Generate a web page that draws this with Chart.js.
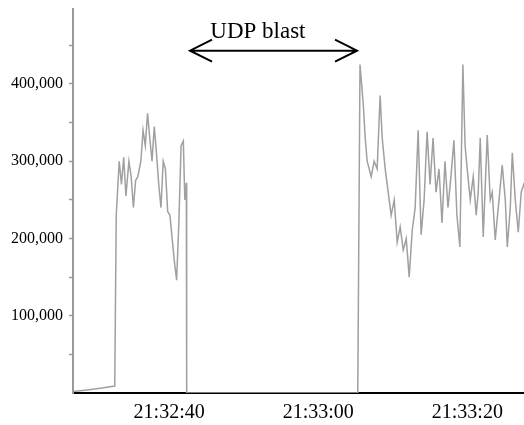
<!DOCTYPE html>
<html lang="en">
<head>
  <meta charset="UTF-8">
  <title>UDP blast</title>
  <style>
    html, body { margin: 0; padding: 0; background: #fff; }
    #wrap { width: 524px; height: 425px; }
  </style>
</head>
<body>
  <div id="wrap"><canvas id="chart" width="524" height="425"></canvas></div>

  <script src="https://cdn.jsdelivr.net/npm/chart.js"></script>
  <script>
    // seconds after 21:32:00
    const times = [
      27.1, 29.0, 31.0, 32.7,
      32.9, 33.3, 33.6, 33.9, 34.2, 34.6, 34.9, 35.2, 35.5, 35.8, 36.2, 36.5, 36.8,
      37.1, 37.4, 37.7, 38.0, 38.3, 38.6, 38.9, 39.2, 39.5, 39.8, 40.1, 40.4, 40.7,
      41.0, 41.3, 41.6, 41.9, 42.1, 42.3, 42.35,
      65.3, 65.6, 66.03, 66.3, 66.56, 66.83, 67.1, 67.5, 67.9, 68.3, 68.58, 68.98,
      69.38, 69.78, 70.19, 70.59, 70.99, 71.4, 71.8, 72.2, 72.6, 73.0, 73.4, 73.8,
      74.2, 74.6, 75.0, 75.4, 75.8, 76.2, 76.6, 77.0, 77.4, 77.8, 78.2, 78.6, 79.0,
      79.4, 79.7, 79.98, 80.39, 80.79, 81.19, 81.46, 81.73, 82.13, 82.67, 83.07,
      83.34, 83.74, 84.15, 84.68, 85.09, 85.36, 85.76, 86.03, 86.43, 86.83, 87.23, 87.64
    ];
    const packets = [
      2000, 4000, 6500, 9000,
      230000, 300000, 270000, 305000, 255000, 300000, 280000, 240000, 275000, 280000, 300000, 340000, 320000,
      362000, 330000, 300000, 345000, 310000, 270000, 240000, 300000, 290000, 235000, 230000, 200000, 170000,
      146000, 220000, 320000, 326000, 250000, 272000, 0,
      0, 425000, 375000, 330000, 300000, 290000, 280000, 300000, 290000, 385000, 330000, 290000,
      260000, 230000, 250000, 195000, 215000, 185000, 200000, 150000, 210000, 240000, 340000, 205000,
      250000, 338000, 270000, 330000, 260000, 290000, 220000, 300000, 240000, 280000, 327000, 230000, 189000,
      425000, 320000, 290000, 250000, 280000, 230000, 260000, 330000, 202000, 334000, 250000,
      260000, 198000, 240000, 295000, 250000, 189000, 240000, 311000, 250000, 208000, 260000, 272000
    ];

    const xTickValues = [40, 60, 80];
    const xTickLabels = ['21:32:40', '21:33:00', '21:33:20'];
    const yTickValues = [50000, 100000, 150000, 200000, 250000, 300000, 350000, 400000, 450000];
    const yTickLabels = ['', '100,000', '', '200,000', '', '300,000', '', '400,000', ''];

    // arrow annotation, in data units
    const blastStart = 42.8;
    const blastEnd = 65.2;
    const arrowLevel = 443000;
    const blastLabel = 'UDP blast';
    const labelAt = { x: 51.9, y: 460000 };

    const serif = "'Liberation Serif', 'Times New Roman', serif";

    const arrowPlugin = {
      id: 'udpArrow',
      afterDatasetsDraw(chart) {
        const ctx = chart.ctx;
        const xs = chart.scales.x, ys = chart.scales.y;
        const x1 = xs.getPixelForValue(blastStart);
        const x2 = xs.getPixelForValue(blastEnd);
        const y = ys.getPixelForValue(arrowLevel);
        ctx.save();
        ctx.strokeStyle = '#000';
        ctx.lineWidth = 2;
        ctx.beginPath();
        ctx.moveTo(x1, y); ctx.lineTo(x2, y);
        ctx.moveTo(x1 + 22, y - 11); ctx.lineTo(x1, y); ctx.lineTo(x1 + 22, y + 11);
        ctx.moveTo(x2 - 22, y - 11); ctx.lineTo(x2, y); ctx.lineTo(x2 - 22, y + 11);
        ctx.stroke();
        ctx.fillStyle = '#000';
        ctx.font = '23px ' + serif;
        ctx.textAlign = 'center';
        ctx.textBaseline = 'alphabetic';
        ctx.fillText(blastLabel, xs.getPixelForValue(labelAt.x), ys.getPixelForValue(labelAt.y));
        ctx.restore();
      }
    };

    new Chart(document.getElementById('chart'), {
      type: 'line',
      data: {
        datasets: [{
          data: times.map((t, i) => ({ x: t, y: packets[i] })),
          borderColor: '#a0a0a0',
          borderWidth: 1.5,
          pointRadius: 0,
          tension: 0,
          fill: false
        }]
      },
      options: {
        responsive: false,
        animation: false,
        layout: { padding: { top: 9, right: 0, left: 0, bottom: 0 } },
        plugins: { legend: { display: false }, tooltip: { enabled: false } },
        scales: {
          x: {
            type: 'linear',
            min: 27.1,
            max: 87.6,
            afterBuildTicks: s => { s.ticks = xTickValues.map(v => ({ value: v })); },
            afterFit: s => { s.height = 32; s.paddingLeft = 0; s.paddingRight = 0; },
            grid: { display: false },
            border: { display: true, color: '#000', width: 2 },
            ticks: {
              autoSkip: false,
              maxRotation: 0,
              padding: 0,
              color: '#000',
              font: { family: serif, size: 20 },
              callback: v => xTickLabels[xTickValues.indexOf(v)]
            }
          },
          y: {
            min: 0,
            max: 497000,
            afterBuildTicks: s => { s.ticks = yTickValues.map(v => ({ value: v })); },
            afterFit: s => { s.width = 73; s.paddingTop = 0; s.paddingBottom = 0; },
            grid: {
              display: true,
              drawOnChartArea: false,
              drawTicks: true,
              tickLength: 4,
              tickWidth: 1.5,
              color: '#999'
            },
            border: { display: true, color: '#999', width: 2 },
            ticks: {
              padding: 6,
              color: '#000',
              font: { family: serif, size: 16 },
              callback: v => yTickLabels[yTickValues.indexOf(v)]
            }
          }
        }
      },
      plugins: [arrowPlugin]
    });
  </script>
</body>
</html>
